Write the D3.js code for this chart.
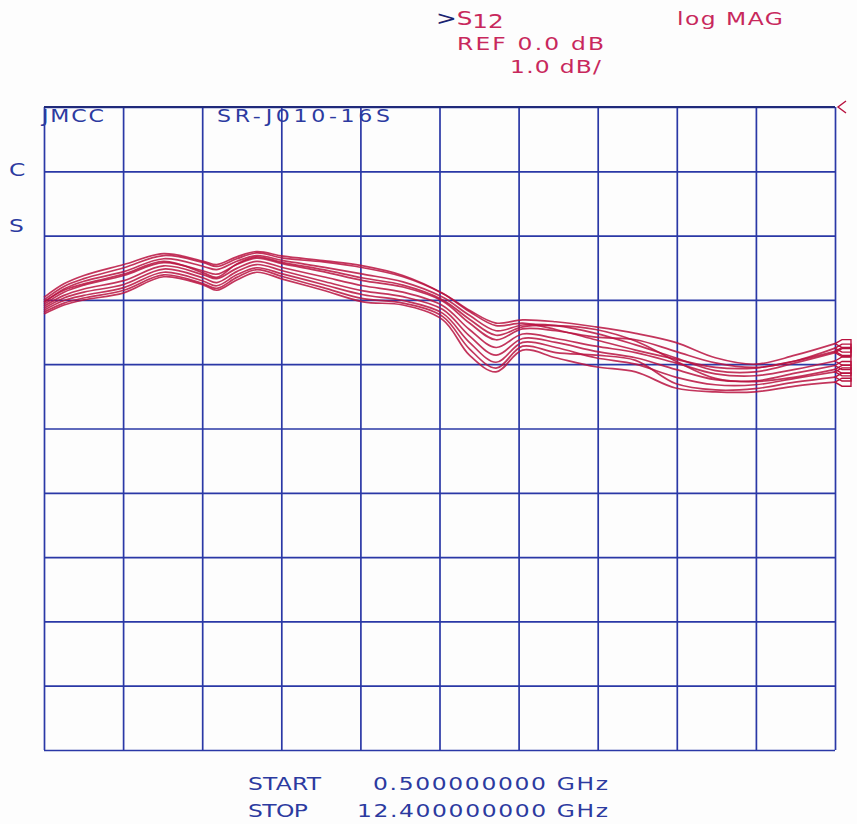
<!DOCTYPE html>
<html>
<head>
<meta charset="utf-8">
<script src="https://cdn.jsdelivr.net/npm/d3@7"></script>
<style>
  html, body { margin: 0; padding: 0; background: #fdfdfd; }
  svg { display: block; }
  text { font-family: "DejaVu Sans", "Noto Sans", sans-serif; }
</style>
</head>
<body>
<svg id="chart" width="857" height="824"></svg>
<script>
// ---- data ----
const freqs = [0.5, 0.8, 1.1, 1.7, 2.3, 2.9, 3.1, 3.4, 3.7, 4.1, 4.7, 5.3, 5.9, 6.5, 6.9, 7.3, 7.7, 8.2, 8.8, 9.4, 10.0, 10.6, 11.2, 11.8, 12.4];
const run1  = [-2.96,-2.75,-2.62,-2.45,-2.28,-2.40,-2.45,-2.33,-2.25,-2.32,-2.39,-2.47,-2.62,-2.90,-3.18,-3.40,-3.36,-3.46,-3.62,-3.78,-3.92,-4.05,-4.06,-3.95,-3.80];
const run2  = [-3.00,-2.79,-2.67,-2.50,-2.31,-2.42,-2.48,-2.36,-2.27,-2.35,-2.41,-2.50,-2.64,-2.90,-3.16,-3.36,-3.31,-3.34,-3.42,-3.52,-3.66,-3.90,-4.00,-3.86,-3.68];
const run3  = [-3.04,-2.83,-2.71,-2.56,-2.36,-2.48,-2.53,-2.40,-2.31,-2.39,-2.49,-2.60,-2.72,-2.96,-3.24,-3.48,-3.39,-3.40,-3.52,-3.70,-3.90,-4.10,-4.12,-3.98,-3.82];
const run4  = [-3.07,-2.88,-2.77,-2.62,-2.42,-2.55,-2.60,-2.45,-2.35,-2.44,-2.56,-2.70,-2.80,-3.02,-3.36,-3.62,-3.45,-3.48,-3.58,-3.62,-3.80,-3.98,-4.05,-3.95,-3.75];
const run5  = [-3.10,-2.93,-2.83,-2.70,-2.47,-2.61,-2.67,-2.51,-2.40,-2.50,-2.64,-2.78,-2.88,-3.09,-3.46,-3.74,-3.53,-3.60,-3.72,-3.82,-3.98,-4.15,-4.18,-4.08,-3.95];
const run6  = [-3.13,-2.97,-2.88,-2.76,-2.52,-2.66,-2.73,-2.56,-2.45,-2.55,-2.71,-2.86,-2.95,-3.15,-3.56,-3.86,-3.60,-3.66,-3.80,-3.90,-4.08,-4.24,-4.26,-4.14,-4.02];
const run7  = [-3.16,-3.01,-2.93,-2.81,-2.57,-2.71,-2.78,-2.61,-2.50,-2.60,-2.76,-2.92,-3.01,-3.21,-3.66,-3.97,-3.66,-3.74,-3.90,-4.00,-4.20,-4.32,-4.32,-4.22,-4.12];
const run8  = [-3.19,-3.05,-2.97,-2.85,-2.61,-2.75,-2.82,-2.65,-2.53,-2.64,-2.81,-2.98,-3.05,-3.26,-3.76,-4.06,-3.72,-3.82,-3.86,-3.94,-4.30,-4.40,-4.38,-4.28,-4.20];
const run9  = [-3.22,-3.08,-3.00,-2.89,-2.64,-2.77,-2.85,-2.69,-2.57,-2.68,-2.85,-3.03,-3.08,-3.31,-3.86,-4.12,-3.78,-3.90,-4.04,-4.12,-4.37,-4.43,-4.43,-4.34,-4.28];
const run10 = [-3.03,-2.85,-2.75,-2.60,-2.40,-2.58,-2.65,-2.44,-2.33,-2.42,-2.53,-2.66,-2.77,-3.00,-3.30,-3.55,-3.42,-3.40,-3.46,-3.64,-3.95,-4.22,-4.27,-4.20,-4.08];
const runs = [run1, run2, run3, run4, run5, run6, run7, run8, run9, run10];

const xTicks = [0.5, 1.69, 2.88, 4.07, 5.26, 6.45, 7.64, 8.83, 10.02, 11.21, 12.4];
const yTicks = [0, -1, -2, -3, -4, -5, -6, -7, -8, -9, -10];

// ---- layout ----
const L = 44, R = 835, T = 107, B = 750;
const svg = d3.select("#chart");
const x = d3.scaleLinear().domain([0.5, 12.4]).range([L, R]);
const y = d3.scaleLinear().domain([-10, 0]).range([B, T]);

const gridCol = "#2a38a6";
const traceCol = "#b8123f";
const textRed = "#c8285c";
const textBlue = "#2c3aa0";

// grid via axes
const gx = svg.append("g").attr("transform", `translate(0,${B})`)
  .call(d3.axisBottom(x).tickValues(xTicks).tickSize(-(B - T)).tickFormat(""));
const gy = svg.append("g").attr("transform", `translate(${L},0)`)
  .call(d3.axisLeft(y).tickValues(yTicks).tickSize(-(R - L)).tickFormat(""));
[gx, gy].forEach(g => {
  g.select(".domain").remove();
  g.selectAll(".tick line").attr("stroke", gridCol).attr("stroke-width", 1.7);
});
svg.append("line").attr("x1", L).attr("x2", R).attr("y1", y(0)).attr("y2", y(0))
  .attr("stroke", "#202a7a").attr("stroke-width", 1.8);

// reference marker "<"
svg.append("path")
  .attr("d", `M${R + 11},${y(0) - 6} L${R + 3},${y(0)} L${R + 11},${y(0) + 6}`)
  .attr("fill", "none").attr("stroke", traceCol).attr("stroke-width", 1.4);

// traces
const line = d3.line()
  .x((d, i) => x(freqs[i]))
  .y(d => y(d))
  .curve(d3.curveCatmullRom.alpha(0.5));

svg.append("g").selectAll("path.trace").data(runs).join("path")
  .attr("class", "trace")
  .attr("d", line)
  .attr("fill", "none")
  .attr("stroke", traceCol)
  .attr("stroke-opacity", 0.85)
  .attr("stroke-width", 1.7);

// end markers
svg.append("g").selectAll("path.end").data(runs).join("path")
  .attr("class", "end")
  .attr("d", d => {
    const yy = y(d[d.length - 1]);
    const xx = x(12.4);
    return `M${xx},${yy} L${xx + 7},${yy - 4} L${xx + 16},${yy - 4} L${xx + 16},${yy + 4} L${xx + 7},${yy + 4} Z`;
  })
  .attr("fill", "none")
  .attr("stroke", traceCol)
  .attr("stroke-width", 1.4);

// ---- texts (wide plotter-style lettering) ----
const SX = 1.3;
function txt(s, xx, yy, col, size, len) {
  const t = svg.append("text")
    .attr("transform", `translate(${xx},${yy}) scale(${SX},1)`)
    .attr("fill", col).attr("font-size", size).text(s);
  if (len) t.attr("textLength", len / SX).attr("lengthAdjust", "spacing");
  return t;
}

// header
const h = svg.append("text").attr("transform", `translate(436,25) scale(${SX},1)`).attr("font-size", 19);
h.append("tspan").attr("fill", "#1a2470").text(">");
h.append("tspan").attr("fill", textRed).text("S");
h.append("tspan").attr("fill", textRed).attr("dy", 3).text("12");
txt("log MAG", 677, 25, textRed, 18, 106);
txt("REF 0.0 dB", 457, 50, textRed, 18, 147);
txt("1.0 dB/", 510, 73, textRed, 18, 91);

// left labels
txt("C", 9, 176, textBlue, 18);
txt("S", 9, 232, textBlue, 18);

// in-grid labels
txt("JMCC", 42, 122, textBlue, 17, 62);
txt("SR-J010-16S", 217, 122, textBlue, 17, 173);

// bottom
txt("START", 248, 790, textBlue, 18, 73);
txt("0.500000000 GHz", 373, 790, textBlue, 18, 235);
txt("STOP", 248, 817, textBlue, 18, 60);
txt("12.400000000 GHz", 357, 817, textBlue, 18, 251);
</script>
</body>
</html>
